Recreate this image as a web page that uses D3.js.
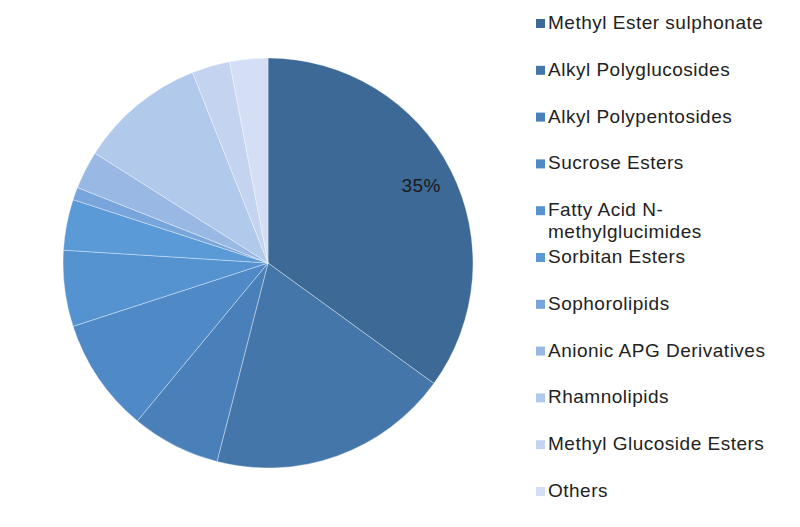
<!DOCTYPE html>
<html>
<head>
<meta charset="utf-8">
<script src="https://cdn.jsdelivr.net/npm/d3@7"></script>
<style>
  body { margin: 0; background: #fff; }
  text { font-family: "Liberation Sans", Arial, sans-serif; letter-spacing: 0.5px; }
</style>
</head>
<body>
<div id="chart"></div>
<script>
var categories = ["Methyl Ester sulphonate", "Alkyl Polyglucosides", "Alkyl Polypentosides",
    "Sucrose Esters", "Fatty Acid N-methylglucimides", "Sorbitan Esters", "Sophorolipids",
    "Anionic APG Derivatives", "Rhamnolipids", "Methyl Glucoside Esters", "Others"];
// legend text split into lines as in the picture
var legendLines = [["Methyl Ester sulphonate"], ["Alkyl Polyglucosides"], ["Alkyl Polypentosides"],
    ["Sucrose Esters"], ["Fatty Acid N-", "methylglucimides"], ["Sorbitan Esters"], ["Sophorolipids"],
    ["Anionic APG Derivatives"], ["Rhamnolipids"], ["Methyl Glucoside Esters"], ["Others"]];
var shares = [35, 19, 7, 9, 6, 4, 1, 3, 10, 3, 3];
var shownLabels = ["35%", "", "", "", "", "", "", "", "", "", ""];
var colors = ["#3d6997", "#4576aa", "#4a80b9", "#4f8ac6", "#5592d0", "#5a9ad7",
    "#78a6dc", "#99b9e4", "#b1c9ea", "#c4d4f0", "#d4dff5"];

var w = 800, h = 527
    , cx = 268, cy = 263, r = 205;

var svg = d3.select("#chart").append("svg")
    .attr("width", w)
    .attr("height", h);

var g = svg.append("g")
    .attr("transform", "translate(" + cx + "," + cy + ")");

var pie = d3.pie().sort(null).value(function(d) { return d; });
var arc = d3.arc().innerRadius(0).outerRadius(r);
var labelArc = d3.arc().innerRadius(172).outerRadius(172);

var color = d3.scaleOrdinal().domain(categories).range(colors);

var slices = pie(shares);

g.selectAll("path")
    .data(slices)
    .enter().append("path")
    .attr("d", arc)
    .attr("fill", function(d, i) { return color(categories[i]); })
    .attr("stroke", "#ffffff")
    .attr("stroke-opacity", 0.6)
    .attr("stroke-width", 0.6);

g.selectAll(".lbl")
    .data(slices)
    .enter().append("text")
    .attr("class", "lbl")
    .attr("transform", function(d) { return "translate(" + labelArc.centroid(d) + ")"; })
    .attr("dy", "0.35em")
    .attr("text-anchor", "middle")
    .style("font-size", "19px")
    .style("fill", "#1a1a1a")
    .text(function(d, i) { return shownLabels[i]; });

//Legend
var ly = d3.scaleLinear().domain([0, categories.length - 1]).range([22, 490]);

var item = svg.selectAll(".legend")
    .data(categories)
    .enter().append("g")
    .attr("class", "legend")
    .attr("transform", function(d, i) { return "translate(536," + ly(i) + ")"; });

item.append("rect")
    .attr("x", 0)
    .attr("y", -3)
    .attr("width", 9)
    .attr("height", 9)
    .attr("fill", function(d) { return color(d); });

item.append("text")
    .attr("x", 12)
    .attr("y", 7)
    .style("font-size", "19px")
    .style("fill", "#222")
    .selectAll("tspan")
    .data(function(d, i) { return legendLines[i]; })
    .enter().append("tspan")
    .attr("x", 12)
    .attr("dy", function(d, j) { return j === 0 ? 0 : 22; })
    .text(function(d) { return d; });
</script>
</body>
</html>
